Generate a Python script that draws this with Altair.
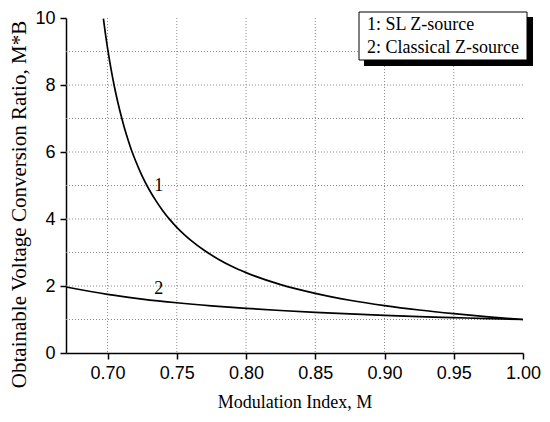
import altair as alt
import pandas as pd

# Curve 1: SL Z-source
m1 = [0.697, 0.6985, 0.70, 0.7025, 0.705, 0.7075, 0.71, 0.7125, 0.715, 0.7175, 0.72, 0.725, 0.73, 0.735,
      0.74, 0.745, 0.75, 0.755, 0.76, 0.77, 0.78, 0.79, 0.80, 0.825, 0.85, 0.875, 0.90, 0.925, 0.95, 0.975, 1.00]
v1 = [9.98, 9.52, 9.10, 8.48, 7.94, 7.47, 7.05, 6.67, 6.34, 6.03, 5.76, 5.28, 4.88, 4.54,
      4.24, 3.98, 3.75, 3.55, 3.37, 3.06, 2.80, 2.58, 2.40, 2.04, 1.78, 1.575, 1.414, 1.283, 1.174, 1.080, 1.00]
# Curve 2: Classical Z-source
m2 = [0.67, 0.70, 0.725, 0.75, 0.775, 0.80, 0.825, 0.85, 0.875, 0.90, 0.925, 0.95, 0.975, 1.00]
v2 = [1.97, 1.75, 1.611, 1.50, 1.409, 1.333, 1.269, 1.214, 1.167, 1.125, 1.088, 1.056, 1.026, 1.00]

grid_x = [0.70, 0.75, 0.80, 0.85, 0.90, 0.95]
grid_y = [1, 2, 3, 4, 5, 6, 7, 8, 9]
x_ticks = [0.70, 0.75, 0.80, 0.85, 0.90, 0.95, 1.00]
y_ticks = [0, 2, 4, 6, 8, 10]

curve_labels = ["1", "2"]
label_m = [0.737, 0.737]
label_v = [5.0, 1.9]
legend_lines = ["1: SL Z-source", "2: Classical Z-source"]

df = pd.concat([
    pd.DataFrame({"M": m1, "MB": v1, "curve": "1"}),
    pd.DataFrame({"M": m2, "MB": v2, "curve": "2"}),
])

xs = alt.Scale(domain=[0.67, 1.0], nice=False, zero=False)
ys = alt.Scale(domain=[0, 10], nice=False)

SERIF = "Liberation Serif"
SANS = "Liberation Sans"

gx = alt.Chart(pd.DataFrame({"g": grid_x})).mark_rule(
    color="#8a8a8a", strokeDash=[1, 2], strokeWidth=1
).encode(x=alt.X("g:Q", scale=xs))
gy = alt.Chart(pd.DataFrame({"g": grid_y})).mark_rule(
    color="#8a8a8a", strokeDash=[1, 2], strokeWidth=1
).encode(y=alt.Y("g:Q", scale=ys))

lines = alt.Chart(df).mark_line(color="black", strokeWidth=1.7, clip=True, interpolate="monotone").encode(
    x=alt.X("M:Q", scale=xs,
            axis=alt.Axis(title="Modulation Index, M", values=x_ticks, format=".2f",
                          grid=False, domainColor="black", domainWidth=1.5,
                          tickColor="black", tickWidth=1.5, tickSize=6,
                          labelFont=SANS, labelFontSize=18, labelColor="black",
                          labelPadding=5, labelFlush=False,
                          titleFont=SERIF, titleFontSize=18, titleFontWeight="normal",
                          titleColor="black", titlePadding=11)),
    y=alt.Y("MB:Q", scale=ys,
            axis=alt.Axis(title="Obtainable Voltage Conversion Ratio, M*B", values=y_ticks,
                          grid=False, domainColor="black", domainWidth=1.5,
                          tickColor="black", tickWidth=1.5, tickSize=6,
                          labelFont=SANS, labelFontSize=18, labelColor="black",
                          labelPadding=5, labelFlush=False,
                          titleFont=SERIF, titleFontSize=21, titleFontWeight="normal",
                          titleColor="black", titlePadding=5, titleY=186)),
    detail="curve:N",
)

lbl = alt.Chart(pd.DataFrame({"t": curve_labels, "M": label_m, "MB": label_v})).mark_text(
    font=SERIF, fontSize=18, color="black", align="center", baseline="middle"
).encode(x=alt.X("M:Q", scale=xs), y=alt.Y("MB:Q", scale=ys), text="t:N")

shadow = alt.Chart(pd.DataFrame({"a": [0]})).mark_rect(color="black").encode(
    x=alt.value(298), x2=alt.value(467), y=alt.value(-1), y2=alt.value(48))
box = alt.Chart(pd.DataFrame({"a": [0]})).mark_rect(
    fill="white", stroke="black", strokeWidth=1).encode(
    x=alt.value(293), x2=alt.value(461), y=alt.value(-6), y2=alt.value(42))
leg1 = alt.Chart(pd.DataFrame({"t": [legend_lines[0]]})).mark_text(
    font=SERIF, fontSize=18, color="black", align="left", baseline="middle"
).encode(x=alt.value(301), y=alt.value(7), text="t:N")
leg2 = alt.Chart(pd.DataFrame({"t": [legend_lines[1]]})).mark_text(
    font=SERIF, fontSize=18, color="black", align="left", baseline="middle"
).encode(x=alt.value(301), y=alt.value(30), text="t:N")

chart = alt.layer(gx, gy, lines, lbl, shadow, box, leg1, leg2).properties(
    width=457, height=335,
    autosize=alt.AutoSizeParams(type="none"),
    padding={"left": 58, "top": 10, "right": 18, "bottom": 60},
    background="white",
).configure_view(stroke=None)

chart.save("out.html", embed_options={"renderer": "svg", "actions": False})
